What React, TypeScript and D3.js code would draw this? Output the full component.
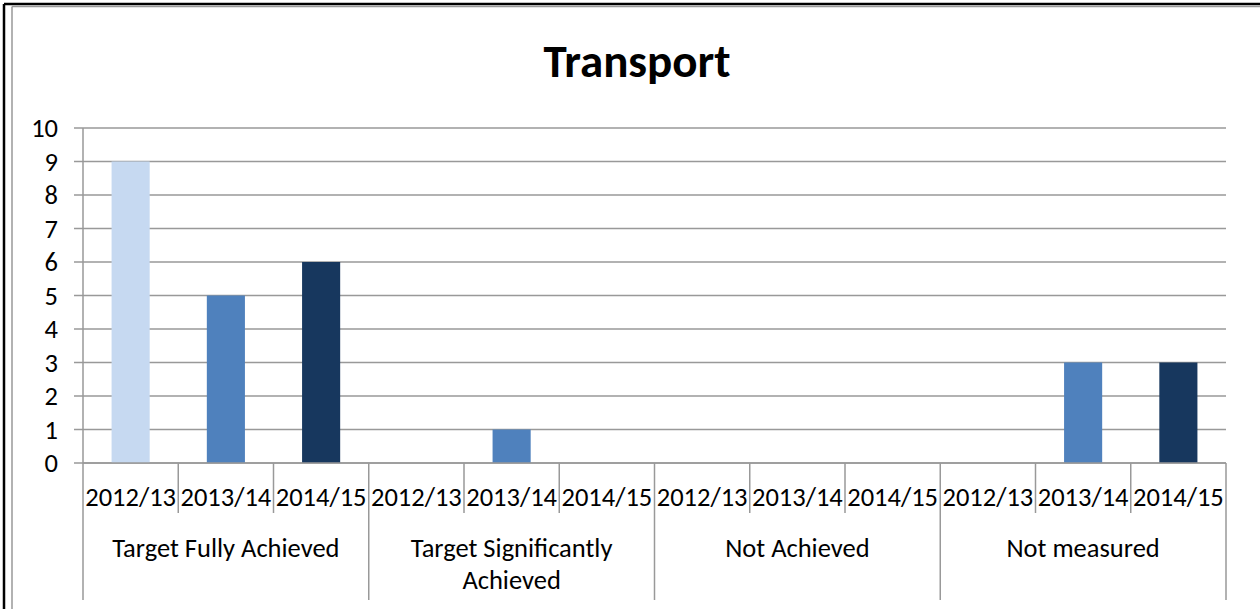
import React, { useEffect, useRef } from 'react';
import * as d3 from 'd3';

const groups = ['Target Fully Achieved', 'Target Significantly Achieved', 'Not Achieved', 'Not measured'];
const years = ['2012/13', '2013/14', '2014/15'];
const values2012 = [9, 0, 0, 0];
const values2013 = [5, 1, 0, 3];
const values2014 = [6, 0, 0, 3];
const yTicks = [0, 1, 2, 3, 4, 5, 6, 7, 8, 9, 10];
const colors = ['#c6d9f1', '#4f81bd', '#17375e'];

const font = 'Carlito, Lato, "Open Sans", sans-serif';
const fs = 26.5;

const App = () => {
	const ref = useRef<SVGSVGElement>(null);

	useEffect(() => {
		const svg = d3.select(ref.current);
		svg.selectAll('*').remove();

		const left = 83;
		const right = 1226;
		const top = 128;
		const bottom = 463;

		const xGroup = d3.scaleBand().domain(groups).range([left, right]).padding(0);
		const xYear = d3.scaleBand().domain(years).range([0, xGroup.bandwidth()]).padding(0);
		const y = d3.scaleLinear().domain([0, 10]).range([bottom, top]);
		const barW = xYear.bandwidth() * 0.4;

		// frame
		svg.append('line').attr('x1', 4).attr('x2', 4).attr('y1', 4).attr('y2', 609)
			.attr('stroke', '#000').attr('stroke-width', 2.5);
		svg.append('line').attr('x1', 4).attr('x2', 1260).attr('y1', 4).attr('y2', 4)
			.attr('stroke', '#000').attr('stroke-width', 2.5);
		svg.append('line').attr('x1', 12).attr('x2', 12).attr('y1', 6.5).attr('y2', 609)
			.attr('stroke', '#999').attr('stroke-width', 1.5);
		svg.append('line').attr('x1', 12).attr('x2', 1260).attr('y1', 6.5).attr('y2', 6.5)
			.attr('stroke', '#999').attr('stroke-width', 1.5);

		// title
		svg.append('text')
			.attr('x', 637).attr('y', 77)
			.attr('text-anchor', 'middle')
			.attr('font-family', font).attr('font-weight', 'bold').attr('font-size', 47)
			.attr('fill', '#000')
			.text('Transport');

		// gridlines + y labels
		const grid = svg.append('g');
		grid.selectAll('line').data(yTicks).join('line')
			.attr('x1', left - 9).attr('x2', right)
			.attr('y1', d => y(d)).attr('y2', d => y(d))
			.attr('stroke', '#999').attr('stroke-width', 1.5);
		grid.selectAll('text').data(yTicks).join('text')
			.attr('x', 58).attr('y', d => y(d))
			.attr('dy', '0.35em').attr('text-anchor', 'end')
			.attr('font-family', font).attr('font-size', fs)
			.text(d => d);

		// y axis
		svg.append('line').attr('x1', left).attr('x2', left).attr('y1', top).attr('y2', bottom)
			.attr('stroke', '#999').attr('stroke-width', 1.5);

		// bars
		const series = [values2012, values2013, values2014];
		series.forEach((vals, si) => {
			svg.append('g').selectAll('rect').data(groups).join('rect')
				.attr('x', (g) => xGroup(g)! + xYear(years[si])! + (xYear.bandwidth() - barW) / 2)
				.attr('width', barW)
				.attr('y', (g, i) => y(vals[i]))
				.attr('height', (g, i) => bottom - y(vals[i]))
				.attr('fill', colors[si]);
		});

		// category axis
		svg.append('line').attr('x1', left).attr('x2', right).attr('y1', bottom).attr('y2', bottom)
			.attr('stroke', '#999').attr('stroke-width', 1.5);

		const axisG = svg.append('g');
		groups.forEach(g => {
			years.forEach((yr, yi) => {
				const x0 = xGroup(g)! + xYear(yr)!;
				if (yi > 0) {
					axisG.append('line').attr('x1', x0).attr('x2', x0).attr('y1', bottom).attr('y2', 513)
						.attr('stroke', '#999').attr('stroke-width', 1.5);
				}
				axisG.append('text')
					.attr('x', x0 + xYear.bandwidth() / 2).attr('y', 506)
					.attr('text-anchor', 'middle')
					.attr('font-family', font).attr('font-size', fs)
					.text(yr);
			});
		});
		[...groups.map(g => xGroup(g)!), right].forEach(x0 => {
			axisG.append('line').attr('x1', x0).attr('x2', x0).attr('y1', bottom).attr('y2', 600)
				.attr('stroke', '#999').attr('stroke-width', 1.5);
		});

		// group labels
		const groupLines: Record<string, string[]> = {
			'Target Significantly Achieved': ['Target Significantly', 'Achieved'],
		};
		groups.forEach(g => {
			const lines = groupLines[g] || [g];
			const t = axisG.append('text')
				.attr('x', xGroup(g)! + xGroup.bandwidth() / 2).attr('y', 557)
				.attr('text-anchor', 'middle')
				.attr('font-family', font).attr('font-size', fs);
			lines.forEach((l, li) => {
				t.append('tspan').attr('x', xGroup(g)! + xGroup.bandwidth() / 2)
					.attr('dy', li === 0 ? 0 : 32).text(l);
			});
		});
	}, []);

	return (
		<svg ref={ref} width={1260} height={609}
			style={{ position: 'absolute', left: 0, top: 0, background: '#fff' }} />
	);
};

export default App;
